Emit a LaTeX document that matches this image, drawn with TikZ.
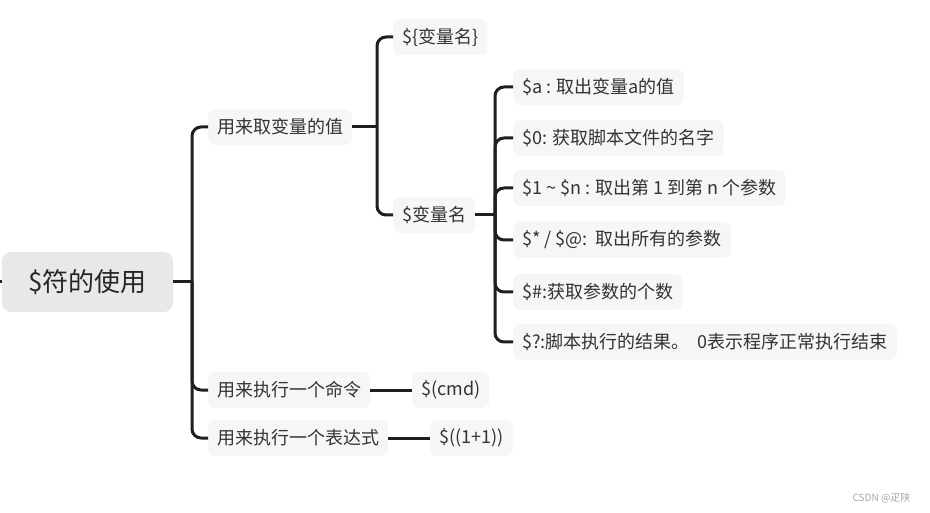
\documentclass[tikz,border=0pt]{standalone}
\usepackage{fontspec}
\setmainfont{Noto Sans CJK SC}
\usepackage{xcolor}
\usepackage{tikz}
\usetikzlibrary{arrows}

\tikzset{
  topic/.style={fill=gray!18, rounded corners=9pt, text=black!85,
    font=\fontsize{26}{30}\selectfont, minimum width=171pt, minimum height=60pt},
  leaf/.style={anchor=west, fill=gray!7, rounded corners=7pt, text=black!80,
    font=\fontsize{18}{22}\selectfont, minimum height=36pt, inner xsep=9pt},
  conn/.style={draw=black!88, line width=3pt, rounded corners=9pt}
}

\begin{document}
\begin{tikzpicture}[x=1pt,y=-1pt]
\useasboundingbox (0,0) rectangle (930,513);

% root
\node[topic] (root) at (87.5,282) {\$符的使用};
\coordinate (stub) at (-8,282);
\draw[conn] (stub) -- (root.west);

% first level
\node[leaf] (val) at (208,127) {用来取变量的值};
\node[leaf] (cmd) at (208,390) {用来执行一个命令};
\node[leaf] (expr) at (208,438) {用来执行一个表达式};
\coordinate (j0) at (192,282);
\draw[conn] (root.east) -- (j0);
\draw[conn] (j0) |- (val.west);
\draw[conn] (j0) |- (cmd.west);
\draw[conn] (j0) |- (expr.west);

% second level
\node[leaf] (name1) at (393,37) {\$\{变量名\}};
\node[leaf] (name2) at (393,215) {\$变量名};
\coordinate (j1) at (377,127);
\draw[conn] (val.east) -- (j1);
\draw[conn] (j1) |- (name1.west);
\draw[conn] (j1) |- (name2.west);

\node[leaf] (cmdval) at (412,390) {\$(cmd)};
\node[leaf] (exprval) at (430,438) {\$((1+1))};
\draw[conn] (cmd.east) -- (cmdval.west);
\draw[conn] (expr.east) -- (exprval.west);

% special variables
\node[leaf] (va) at (513,87) {\$a : 取出变量a的值};
\node[leaf] (v0) at (513,138) {\$0: 获取脚本文件的名字};
\node[leaf] (vn) at (513,188) {\$1 \textasciitilde{} \$n : 取出第 1 到第 n 个参数};
\node[leaf] (vall) at (513,240) {\$* / \$@:\ \ 取出所有的参数};
\node[leaf] (vnum) at (513,292) {\$\#:获取参数的个数};
\node[leaf] (vres) at (513,342) {\$?:脚本执行的结果。\ \ 0表示程序正常执行结束};
\coordinate (j2) at (495,215);
\draw[conn] (name2.east) -- (j2);
\foreach \v in {va,v0,vn,vall,vnum,vres}
  \draw[conn] (j2) |- (\v.west);

\node[text=gray!70, font=\fontsize{10}{12}\selectfont, anchor=east] (mark) at (914,498) {CSDN @疋陕};
\end{tikzpicture}
\end{document}
